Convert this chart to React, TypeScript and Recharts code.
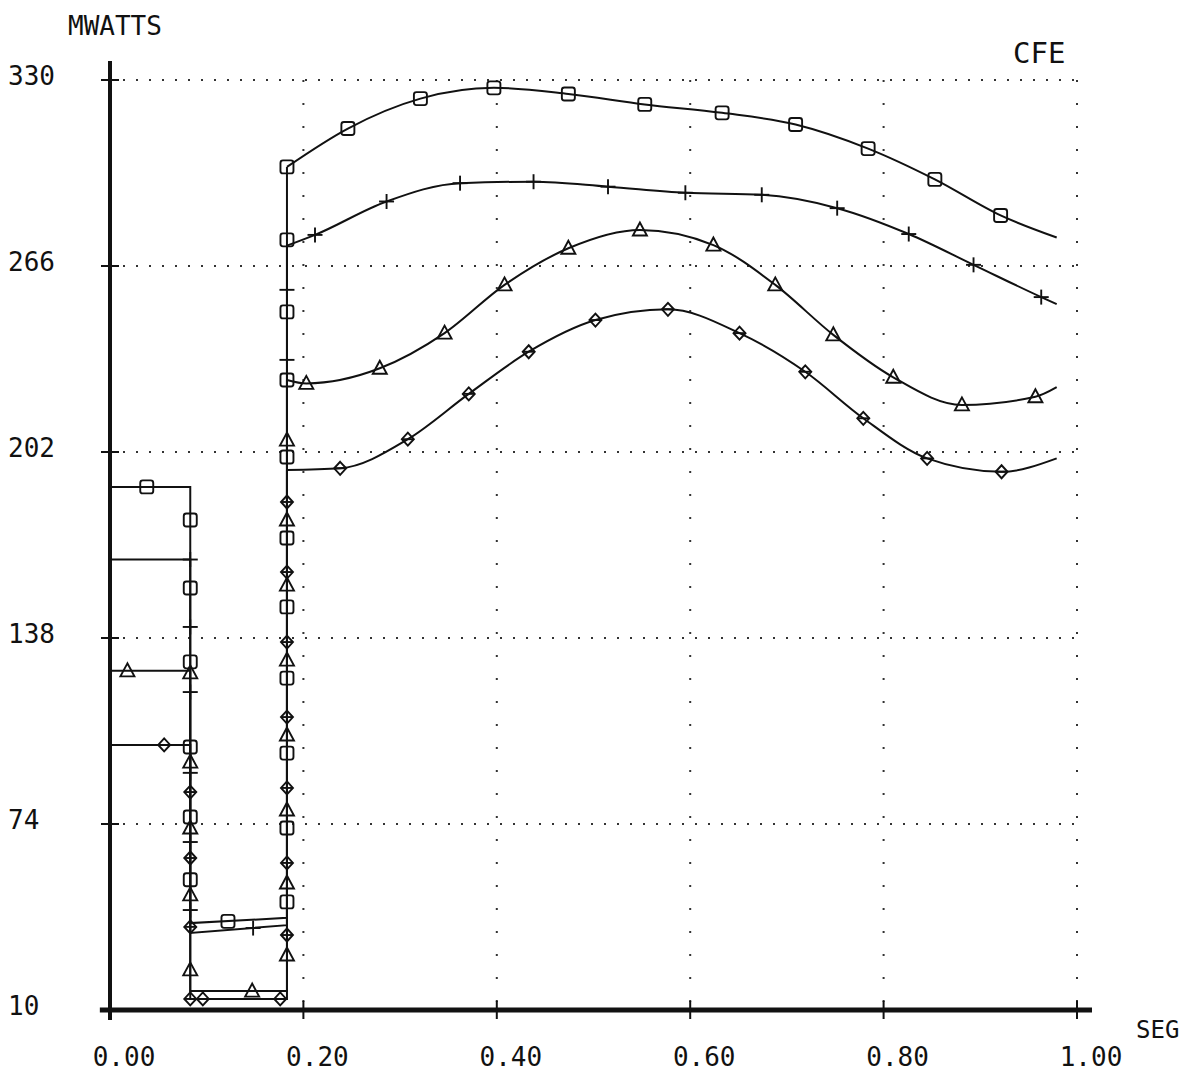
import React from 'react';
import {
  ComposedChart,
  Line,
  Scatter,
  XAxis,
  YAxis,
  CartesianGrid,
  ReferenceLine,
} from 'recharts';

// ---------- axes ----------
const X_TICKS = [0, 0.2, 0.4, 0.6, 0.8, 1.0];
const X_TICK_LABELS = ['0.00', '0.20', '0.40', '0.60', '0.80', '1.00'];
const Y_TICKS = [10, 74, 138, 202, 266, 330];
const Y_TICK_LABELS = ['10', '74', '138', '202', '266', '330'];

// ---------- series 1 (square markers) ----------
const S1_STEP_X = [0, 0.083, 0.083, 0.183, 0.183];
const S1_STEP_Y = [190, 190, 39.9, 41.7, 300.1];
const S1_CURVE_X = [0.183, 0.246, 0.321, 0.397, 0.474, 0.553, 0.633, 0.709, 0.784, 0.853, 0.921, 0.979];
const S1_CURVE_Y = [300.1, 313.3, 323.6, 327.3, 325.2, 321.6, 318.7, 314.7, 306.4, 295.8, 283.4, 275.8];
const S1_MARK_X = [0.038, 0.083, 0.083, 0.083, 0.083, 0.083, 0.083, 0.122, 0.183, 0.183, 0.183, 0.183, 0.183, 0.183, 0.183, 0.183, 0.183, 0.183];
const S1_MARK_Y = [190, 178.6, 155.2, 129.8, 100.5, 76.4, 54.8, 40.5, 47.2, 72.6, 98.4, 124.2, 148.7, 172.4, 200.3, 226.8, 250.2, 275.0];

// ---------- series 2 (plus markers) ----------
const S2_STEP_X = [0, 0.083, 0.083, 0.183, 0.183];
const S2_STEP_Y = [165, 165, 36.5, 39.2, 273];
const S2_CURVE_X = [0.183, 0.212, 0.286, 0.362, 0.438, 0.515, 0.595, 0.674, 0.752, 0.826, 0.893, 0.963, 0.979];
const S2_CURVE_Y = [273, 276.7, 288.2, 294.5, 295.0, 293.3, 291.2, 290.5, 285.9, 277.0, 266.4, 255.3, 252.9];
const S2_MARK_X = [0.083, 0.083, 0.083, 0.083, 0.083, 0.083, 0.148, 0.183, 0.183];
const S2_MARK_Y = [165, 141.8, 119.4, 91.6, 67.8, 44.4, 38.2, 233.7, 257.8];

// ---------- series 3 (triangle markers) ----------
const S3_STEP_X = [0, 0.083, 0.083, 0.183, 0.183];
const S3_STEP_Y = [126.7, 126.7, 16.5, 16.5, 226.8];
const S3_CURVE_X = [0.183, 0.203, 0.279, 0.346, 0.408, 0.474, 0.548, 0.624, 0.688, 0.748, 0.81, 0.881, 0.957, 0.979];
const S3_CURVE_Y = [226.8, 225.6, 230.8, 242.9, 259.5, 272.1, 278.4, 273.2, 259.5, 242.3, 227.7, 218.2, 221.0, 224.3];
const S3_MARK_X = [0.018, 0.083, 0.083, 0.083, 0.083, 0.083, 0.147, 0.183, 0.183, 0.183, 0.183, 0.183, 0.183, 0.183, 0.183];
const S3_MARK_Y = [126.7, 126.0, 95.3, 72.6, 49.6, 23.8, 16.5, 28.9, 53.7, 78.8, 104.6, 130.4, 156.2, 178.6, 206.1];

// ---------- series 4 (diamond markers) ----------
const S4_STEP_X = [0, 0.083, 0.083, 0.183, 0.183];
const S4_STEP_Y = [101.2, 101.2, 13.8, 13.8, 195.8];
const S4_CURVE_X = [0.183, 0.238, 0.308, 0.371, 0.433, 0.502, 0.577, 0.651, 0.719, 0.779, 0.845, 0.922, 0.979];
const S4_CURVE_Y = [195.8, 196.4, 206.4, 222.0, 236.5, 247.4, 251.1, 242.9, 229.6, 213.6, 199.8, 195.2, 199.8];
const S4_MARK_X = [0.056, 0.083, 0.083, 0.083, 0.083, 0.096, 0.176, 0.183, 0.183, 0.183, 0.183, 0.183, 0.183, 0.183];
const S4_MARK_Y = [101.2, 85.0, 62.3, 38.6, 13.8, 13.8, 13.8, 35.8, 60.6, 86.4, 110.8, 136.6, 160.7, 184.8];

// ---------- layout ----------
const W = 1172;
const H = 1058;
const CHART_H = 1066;
const PLOT_LEFT = 102;
const PLOT_TOP = 72;
const PLOT_RIGHT = 1069;
const PLOT_BOTTOM = 1002;
const INK = '#111';
const FONT = '"DejaVu Sans Mono", "Liberation Mono", monospace';

type Pt = { x: number; y: number };
const pts = (xs: number[], ys: number[]): Pt[] => xs.map((x, i) => ({ x, y: ys[i] }));

const SERIES = [
  { kind: 'square', step: pts(S1_STEP_X, S1_STEP_Y), curve: pts(S1_CURVE_X, S1_CURVE_Y), curveMarkFrom: 0, marks: pts(S1_MARK_X, S1_MARK_Y) },
  { kind: 'plus', step: pts(S2_STEP_X, S2_STEP_Y), curve: pts(S2_CURVE_X, S2_CURVE_Y), curveMarkFrom: 1, marks: pts(S2_MARK_X, S2_MARK_Y) },
  { kind: 'triangle', step: pts(S3_STEP_X, S3_STEP_Y), curve: pts(S3_CURVE_X, S3_CURVE_Y), curveMarkFrom: 1, marks: pts(S3_MARK_X, S3_MARK_Y) },
  { kind: 'diamond', step: pts(S4_STEP_X, S4_STEP_Y), curve: pts(S4_CURVE_X, S4_CURVE_Y), curveMarkFrom: 1, marks: pts(S4_MARK_X, S4_MARK_Y) },
];

function Marker({ cx, cy, kind }: { cx: number; cy: number; kind: string }) {
  if (cx == null || cy == null || isNaN(cx) || isNaN(cy)) return null;
  const sw = 1.9;
  if (kind === 'square') {
    return <rect x={cx - 6.5} y={cy - 6.5} width={13} height={13} rx={2.5} fill="none" stroke={INK} strokeWidth={sw} />;
  }
  if (kind === 'plus') {
    return (
      <g stroke={INK} strokeWidth={sw}>
        <line x1={cx - 7.5} y1={cy} x2={cx + 7.5} y2={cy} />
        <line x1={cx} y1={cy - 7.5} x2={cx} y2={cy + 7.5} />
      </g>
    );
  }
  if (kind === 'triangle') {
    return <polygon points={`${cx},${cy - 7.5} ${cx - 7},${cy + 5.5} ${cx + 7},${cy + 5.5}`} fill="none" stroke={INK} strokeWidth={sw} />;
  }
  return (
    <g stroke={INK} strokeWidth={sw} fill="none">
      <polygon points={`${cx},${cy - 6.5} ${cx + 6},${cy} ${cx},${cy + 6.5} ${cx - 6},${cy}`} />
      <line x1={cx - 6} y1={cy} x2={cx + 6} y2={cy} />
    </g>
  );
}

function YTick(props: any) {
  const { y, index } = props;
  return (
    <g>
      <line x1={PLOT_LEFT - 9} y1={y} x2={PLOT_LEFT + 9} y2={y} stroke={INK} strokeWidth={2} />
      <text x={0} y={y + 5} fontFamily={FONT} fontSize={26} fill={INK} textAnchor="start">
        {Y_TICK_LABELS[index]}
      </text>
    </g>
  );
}

function XTick(props: any) {
  const { x, index } = props;
  return (
    <g>
      <line x1={x} y1={PLOT_BOTTOM - 9} x2={x} y2={PLOT_BOTTOM + 9} stroke={INK} strokeWidth={2} />
      <text x={x + 14} y={PLOT_BOTTOM + 56} fontFamily={FONT} fontSize={26} fill={INK} textAnchor="middle">
        {X_TICK_LABELS[index]}
      </text>
    </g>
  );
}

export default function App() {
  return (
    <div style={{ position: 'relative', width: W, height: H, background: '#fff' }}>
      <div style={{ position: 'absolute', left: 0, top: 0 }}>
        <ComposedChart
          width={W}
          height={CHART_H}
          margin={{ top: PLOT_TOP, left: PLOT_LEFT - 1, right: W - PLOT_RIGHT, bottom: CHART_H - PLOT_BOTTOM - 1 }}
        >
          <CartesianGrid vertical={false} stroke="#333" strokeWidth={2} strokeDasharray="2 11" />
          <CartesianGrid horizontal={false} stroke="#333" strokeWidth={2} strokeDasharray="2 21" />
          <XAxis
            dataKey="x"
            type="number"
            domain={[0, 1]}
            ticks={X_TICKS}
            allowDataOverflow
            axisLine={false}
            tickLine={false}
            tickSize={0}
            tickMargin={0}
            height={1}
            tick={XTick}
            interval={0}
          />
          <YAxis
            dataKey="y"
            type="number"
            domain={[10, 330]}
            ticks={Y_TICKS}
            allowDataOverflow
            axisLine={false}
            tickLine={false}
            tickSize={0}
            tickMargin={0}
            width={1}
            tick={YTick}
            interval={0}
          />
          <ReferenceLine segment={[{ x: 0, y: 6.6 }, { x: 0, y: 336.5 }]} stroke={INK} strokeWidth={4} ifOverflow="visible" />
          <ReferenceLine segment={[{ x: -0.0105, y: 10 }, { x: 1.0155, y: 10 }]} stroke={INK} strokeWidth={5} ifOverflow="visible" />
          {SERIES.map((s, i) => (
            <Line
              key={`step${i}`}
              data={s.step}
              dataKey="y"
              type="linear"
              stroke={INK}
              strokeWidth={2}
              dot={false}
              activeDot={false}
              isAnimationActive={false}
            />
          ))}
          {SERIES.map((s, i) => (
            <Line
              key={`curve${i}`}
              data={s.curve}
              dataKey="y"
              type="monotone"
              stroke={INK}
              strokeWidth={2}
              dot={false}
              activeDot={false}
              isAnimationActive={false}
            />
          ))}
          {SERIES.map((s, i) => (
            <Scatter
              key={`mark${i}`}
              data={[...s.marks, ...s.curve.slice(s.curveMarkFrom, s.curve.length - 1)]}
              dataKey="y"
              isAnimationActive={false}
              shape={(p: any) => <Marker cx={p.cx} cy={p.cy} kind={s.kind} />}
            />
          ))}
        </ComposedChart>
      </div>
      <svg
        width={W}
        height={H}
        style={{ position: 'absolute', left: 0, top: 0, pointerEvents: 'none', overflow: 'visible' }}
      >
        <text x={60} y={27} fontFamily={FONT} fontSize={26} fill={INK}>MWATTS</text>
        <text x={1005} y={55} fontFamily={FONT} fontSize={29} fill={INK}>CFE</text>
        <text x={1128} y={1030} fontFamily={FONT} fontSize={24} fill={INK}>SEG</text>
      </svg>
    </div>
  );
}
